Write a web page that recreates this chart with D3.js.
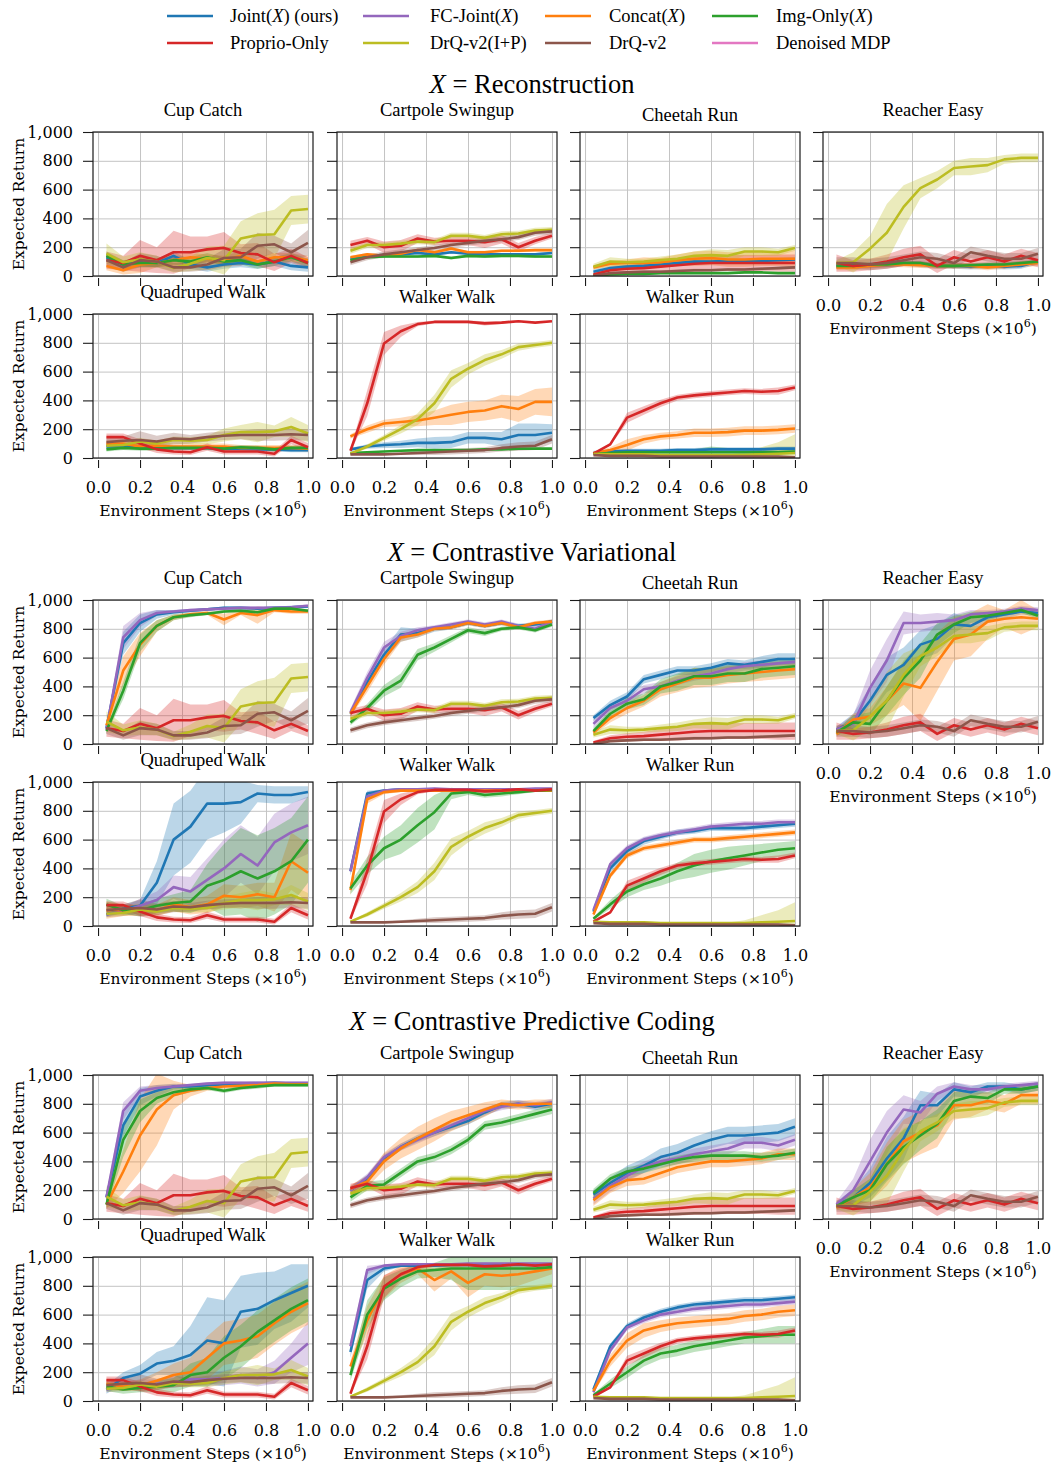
<!DOCTYPE html>
<html>
<head>
<meta charset="utf-8">
<script src="https://cdn.jsdelivr.net/npm/d3@7"></script>
<style>
  body { margin: 0; background: #fff; }
  svg { display: block; }
</style>
</head>
<body>
<svg id="chart" width="1053" height="1470"></svg>
<script>
// ---- shared axes / categories ----
const steps = [0.04, 0.12, 0.2, 0.28, 0.36, 0.44, 0.52, 0.6, 0.68, 0.76, 0.84, 0.92, 1.0];
const xTicks = [0, 0.2, 0.4, 0.6, 0.8, 1.0];
const yTicks = [0, 200, 400, 600, 800, 1000];
const tasks = ["Cup Catch", "Cartpole Swingup", "Cheetah Run", "Reacher Easy",
               "Quadruped Walk", "Walker Walk", "Walker Run"];
const sectionNames = ["Reconstruction", "Contrastive Variational", "Contrastive Predictive Coding"];
const legendLabels = ["Joint(X) (ours)", "FC-Joint(X)", "Concat(X)", "Img-Only(X)",
                      "Proprio-Only", "DrQ-v2(I+P)", "DrQ-v2", "Denoised MDP"];
const legendColors = ["#1f77b4", "#9467bd", "#ff7f0e", "#2ca02c",
                      "#d62728", "#bcbd22", "#8c564b", "#e377c2"];

// ---- baselines (independent of X), rows follow `tasks` ----
const proprioOnly = [
  [110, 90, 140, 110, 165, 165, 185, 195, 160, 150, 95, 140, 90],
  [215, 245, 200, 210, 260, 240, 245, 245, 235, 255, 200, 245, 280],
  [10, 40, 50, 55, 65, 75, 85, 90, 90, 90, 90, 90, 90],
  [90, 70, 80, 100, 130, 150, 70, 130, 100, 130, 100, 140, 110],
  [145, 145, 100, 60, 45, 40, 75, 45, 45, 45, 30, 125, 75],
  [50, 380, 795, 880, 930, 945, 945, 945, 935, 940, 950, 940, 950],
  [30, 95, 280, 330, 380, 420, 435, 445, 455, 465, 460, 465, 490]
];
const proprioOnlyBand = [
  [60, 50, 110, 90, 150, 110, 90, 110, 60, 80, 60, 50, 40],
  [30, 25, 40, 40, 30, 25, 25, 30, 40, 30, 30, 25, 20],
  [10, 20, 25, 30, 40, 50, 55, 55, 55, 55, 55, 60, 60],
  [60, 40, 40, 50, 60, 60, 50, 50, 50, 50, 50, 50, 50],
  [25, 25, 30, 25, 20, 20, 25, 20, 20, 20, 20, 30, 30],
  [10, 90, 80, 40, 15, 10, 10, 10, 15, 10, 5, 5, 5],
  [5, 10, 35, 30, 25, 20, 20, 20, 20, 20, 20, 25, 20]
];
const drqImgProp = [
  [155, 95, 115, 100, 55, 85, 125, 110, 260, 285, 290, 455, 465],
  [175, 215, 215, 225, 240, 235, 280, 280, 265, 290, 295, 315, 320],
  [65, 100, 95, 100, 110, 120, 140, 145, 140, 170, 170, 165, 195],
  [90, 95, 190, 300, 480, 610, 670, 750, 760, 770, 810, 820, 820],
  [85, 90, 115, 100, 125, 120, 125, 160, 180, 180, 185, 215, 170],
  [30, 80, 140, 200, 270, 380, 550, 620, 680, 720, 770, 785, 800],
  [30, 25, 25, 25, 20, 20, 20, 20, 20, 20, 25, 30, 35]
];
const drqImgPropBand = [
  [70, 40, 50, 40, 30, 50, 80, 100, 120, 150, 170, 100, 100],
  20,
  [20, 30, 25, 20, 25, 30, 30, 40, 40, 30, 30, 25, 20],
  [20, 70, 90, 200, 150, 70, 60, 50, 60, 50, 30, 30, 30],
  [20, 20, 25, 20, 25, 25, 30, 45, 50, 70, 40, 70, 60],
  [5, 15, 20, 30, 40, 60, 60, 40, 40, 30, 25, 20, 20],
  [5, 5, 5, 5, 5, 5, 5, 5, 5, 20, 50, 80, 130]
];
const drqV2 = [
  [110, 60, 110, 100, 60, 60, 80, 125, 130, 210, 220, 165, 230],
  [95, 130, 150, 165, 180, 195, 215, 230, 245, 255, 270, 300, 310],
  [0, 20, 25, 30, 30, 35, 40, 40, 45, 45, 50, 55, 60],
  [90, 90, 80, 90, 110, 130, 120, 90, 165, 140, 120, 120, 155],
  [110, 120, 125, 115, 135, 130, 145, 155, 160, 160, 160, 165, 160],
  [25, 25, 25, 30, 35, 40, 45, 50, 55, 70, 80, 85, 130],
  [20, 15, 15, 15, 10, 10, 10, 10, 10, 10, 10, 10, 5]
];
const drqV2Band = [
  [40, 30, 50, 40, 30, 30, 40, 60, 60, 90, 60, 60, 90],
  20, 10, 40,
  [30, 30, 60, 40, 40, 30, 30, 30, 30, 40, 40, 40, 40],
  [5, 5, 5, 10, 15, 20, 20, 20, 20, 25, 30, 30, 30],
  5
];

// ---- X = Reconstruction ----
const recJoint = [
  [130, 80, 100, 90, 140, 80, 60, 80, 90, 80, 100, 70, 60],
  [120, 140, 145, 150, 160, 150, 165, 155, 150, 150, 150, 150, 160],
  [30, 55, 65, 70, 80, 90, 100, 100, 105, 105, 105, 110, 115],
  [70, 80, 75, 80, 90, 80, 70, 70, 65, 70, 65, 70, 100],
  [80, 80, 75, 75, 70, 70, 70, 65, 65, 60, 60, 55, 55],
  [60, 80, 90, 95, 105, 105, 110, 140, 140, 130, 160, 160, 175],
  [35, 45, 50, 50, 50, 55, 55, 60, 60, 60, 60, 65, 65]
];
const recJointBand = [30, 10, 15, 20, 15, [10, 15, 20, 25, 30, 40, 40, 40, 40, 50, 80, 80, 60], 15];
const recConcat = [
  [70, 40, 80, 90, 110, 130, 120, 110, 140, 100, 130, 130, 110],
  [130, 150, 140, 155, 180, 165, 190, 165, 165, 175, 175, 180, 180],
  [60, 85, 90, 90, 95, 110, 120, 125, 115, 115, 120, 120, 120],
  [60, 60, 70, 80, 80, 75, 70, 70, 70, 60, 70, 80, 90],
  [100, 100, 80, 85, 80, 80, 80, 80, 70, 70, 70, 70, 65],
  [150, 200, 240, 250, 260, 280, 300, 320, 330, 360, 340, 390, 390],
  [35, 55, 90, 130, 150, 160, 175, 175, 180, 190, 190, 195, 205]
];
const recConcatBand = [
  [30, 30, 60, 30, 40, 30, 30, 30, 30, 30, 30, 30, 30], 10,
  [15, 20, 25, 40, 30, 40, 50, 50, 50, 50, 50, 50, 60], 20, 20,
  [15, 25, 25, 30, 40, 50, 70, 70, 70, 80, 90, 90, 100],
  [5, 20, 40, 30, 25, 25, 30, 30, 30, 30, 30, 30, 30]
];
const recImg = [
  [140, 80, 90, 90, 110, 100, 130, 100, 110, 80, 100, 130, 90],
  [110, 130, 135, 135, 135, 140, 125, 140, 135, 140, 140, 135, 135],
  [5, 10, 15, 15, 20, 20, 20, 20, 20, 25, 25, 20, 20],
  [70, 70, 80, 80, 90, 90, 70, 70, 75, 80, 80, 90, 100],
  [60, 70, 65, 65, 70, 70, 70, 65, 75, 70, 60, 70, 70],
  [35, 40, 45, 50, 55, 55, 55, 55, 60, 60, 65, 65, 65],
  [30, 35, 40, 40, 40, 40, 40, 40, 40, 40, 40, 40, 45]
];
const recImgBand = [30, 10, 8, 15, 15, 5, [5, 5, 10, 10, 15, 20, 20, 40, 30, 20, 20, 15, 15]];

// ---- X = Contrastive Variational ----
const cvJoint = [
  [110, 700, 840, 900, 915, 925, 935, 945, 945, 940, 945, 950, 955],
  [210, 430, 620, 760, 770, 800, 810, 840, 820, 840, 820, 830, 850],
  [180, 270, 330, 450, 480, 510, 510, 530, 560, 550, 570, 590, 590],
  [100, 150, 300, 480, 550, 690, 730, 830, 820, 880, 900, 920, 910],
  [80, 120, 140, 300, 600, 690, 850, 850, 860, 920, 910, 910, 930],
  [380, 920, 940, 950, 950, 950, 950, 950, 950, 950, 950, 950, 950],
  [100, 400, 520, 590, 620, 650, 660, 680, 680, 680, 690, 700, 710]
];
const cvJointBand = [
  [20, 80, 60, 30, 15, 10, 10, 10, 10, 10, 10, 10, 10],
  [20, 40, 40, 50, 30, 20, 15, 15, 15, 15, 15, 15, 15],
  [20, 30, 30, 30, 30, 30, 30, 30, 30, 30, 40, 40, 40],
  [20, 60, 100, 120, 120, 100, 100, 80, 50, 30, 30, 20, 20],
  [20, 30, 40, 150, 250, 250, 250, 200, 150, 60, 60, 60, 40],
  [30, 20, 10, 5, 5, 5, 5, 5, 5, 5, 5, 5, 5],
  [15, 30, 30, 25, 20, 20, 20, 20, 20, 20, 20, 20, 20]
];
const cvFcJoint = [
  [100, 740, 860, 910, 920, 930, 935, 940, 945, 945, 945, 950, 960],
  [220, 460, 670, 750, 790, 810, 830, 850, 830, 850, 820, 800, 850],
  [140, 250, 300, 380, 400, 440, 470, 490, 520, 540, 550, 560, 570],
  [100, 140, 390, 580, 840, 840, 850, 860, 900, 910, 920, 940, 930],
  [80, 100, 140, 180, 270, 240, 320, 400, 500, 420, 580, 650, 700],
  [380, 900, 940, 950, 950, 955, 950, 950, 950, 950, 950, 955, 955],
  [110, 430, 540, 600, 630, 650, 670, 690, 700, 710, 710, 720, 720]
];
const cvFcJointBand = [
  [20, 80, 50, 20, 10, 10, 10, 10, 10, 10, 10, 10, 10],
  [25, 40, 40, 30, 20, 15, 15, 15, 15, 15, 15, 20, 15],
  30,
  [20, 60, 120, 150, 80, 60, 60, 40, 30, 20, 20, 20, 20],
  [20, 30, 50, 60, 80, 100, 150, 200, 200, 200, 200, 200, 200],
  [30, 30, 10, 5, 5, 5, 5, 5, 5, 5, 5, 5, 5],
  20
];
const cvConcat = [
  [130, 510, 690, 820, 880, 900, 910, 865, 910, 895, 930, 920, 920],
  [210, 400, 590, 740, 760, 800, 810, 840, 820, 840, 810, 840, 850],
  [80, 180, 250, 300, 380, 420, 460, 460, 480, 490, 500, 510, 520],
  [70, 170, 190, 300, 420, 390, 570, 730, 760, 850, 870, 880, 870],
  [110, 110, 110, 110, 150, 130, 150, 210, 200, 220, 200, 450, 370],
  [250, 880, 930, 940, 940, 940, 940, 940, 940, 940, 940, 940, 940],
  [80, 350, 490, 540, 560, 580, 600, 600, 610, 620, 630, 640, 650]
];
const cvConcatBand = [
  [30, 100, 80, 40, 20, 15, 15, 40, 15, 60, 15, 15, 15],
  [20, 40, 40, 30, 20, 15, 15, 15, 15, 15, 15, 15, 15],
  [20, 30, 40, 40, 50, 60, 70, 60, 60, 60, 60, 60, 60],
  [20, 40, 60, 100, 150, 230, 200, 150, 150, 120, 60, 120, 60],
  [60, 40, 40, 40, 50, 50, 60, 80, 80, 80, 100, 200, 200],
  [40, 30, 15, 10, 10, 10, 10, 10, 10, 10, 10, 10, 10],
  20
];
const cvImg = [
  [90, 370, 700, 820, 880, 895, 905, 920, 925, 915, 940, 940, 925],
  [150, 250, 370, 440, 620, 670, 730, 790, 770, 800, 810, 790, 830],
  [90, 210, 280, 310, 400, 430, 470, 470, 490, 490, 520, 530, 540],
  [80, 150, 140, 300, 460, 580, 760, 830, 880, 890, 910, 930, 890],
  [150, 110, 110, 140, 160, 170, 280, 320, 380, 330, 380, 450, 600],
  [260, 420, 540, 600, 700, 790, 920, 930, 910, 920, 930, 940, 945],
  [50, 150, 240, 290, 330, 380, 420, 450, 470, 490, 510, 530, 540]
];
const cvImgBand = [
  [20, 60, 60, 40, 20, 15, 10, 10, 10, 10, 10, 10, 10],
  [20, 30, 40, 50, 40, 30, 25, 20, 20, 15, 15, 15, 15],
  [20, 30, 40, 40, 50, 60, 60, 60, 60, 60, 60, 60, 60],
  [20, 50, 80, 100, 120, 120, 80, 60, 40, 30, 20, 20, 20],
  [40, 30, 40, 50, 60, 80, 150, 250, 300, 300, 300, 300, 300],
  [40, 60, 80, 100, 120, 120, 40, 20, 20, 20, 15, 10, 10],
  [10, 30, 40, 40, 50, 60, 80, 80, 80, 70, 60, 50, 50]
];

// ---- X = Contrastive Predictive Coding ----
const cpcJoint = [
  [150, 650, 850, 890, 920, 920, 930, 935, 935, 940, 945, 940, 940],
  [200, 280, 420, 500, 560, 600, 640, 680, 740, 790, 800, 780, 800],
  [170, 250, 320, 370, 430, 460, 510, 550, 580, 580, 590, 600, 640],
  [100, 150, 250, 420, 560, 790, 790, 900, 880, 920, 920, 900, 920],
  [80, 160, 190, 260, 280, 320, 420, 400, 620, 640, 700, 750, 800],
  [340, 840, 920, 940, 940, 940, 945, 945, 945, 945, 945, 945, 945],
  [80, 380, 520, 580, 620, 650, 670, 680, 690, 700, 700, 710, 720]
];
const cpcJointBand = [
  [30, 80, 60, 40, 20, 15, 15, 15, 15, 15, 10, 10, 10],
  25,
  [30, 40, 50, 50, 60, 60, 60, 60, 60, 60, 60, 60, 60],
  [20, 60, 100, 150, 150, 100, 80, 50, 40, 30, 30, 30, 30],
  [30, 40, 60, 80, 100, 200, 300, 300, 250, 250, 200, 200, 150],
  [40, 60, 20, 10, 10, 10, 10, 10, 10, 10, 10, 10, 10],
  20
];
const cpcFcJoint = [
  [150, 750, 890, 910, 920, 930, 940, 945, 945, 945, 945, 945, 945],
  [200, 290, 430, 500, 550, 600, 650, 700, 750, 780, 800, 790, 810],
  [140, 230, 300, 360, 400, 420, 450, 470, 490, 530, 530, 510, 550],
  [100, 200, 400, 600, 760, 740, 870, 920, 900, 900, 920, 930, 940],
  [80, 100, 120, 120, 130, 150, 150, 160, 180, 160, 200, 300, 400],
  [380, 910, 940, 950, 950, 950, 950, 955, 955, 955, 955, 955, 955],
  [60, 350, 510, 560, 600, 620, 640, 650, 660, 670, 670, 680, 690]
];
const cpcFcJointBand = [
  [30, 60, 30, 20, 15, 10, 10, 10, 10, 10, 10, 10, 10],
  25, 40,
  [20, 80, 150, 150, 100, 80, 50, 30, 30, 30, 20, 20, 20],
  [20, 30, 30, 30, 40, 40, 50, 50, 60, 60, 80, 100, 150],
  [40, 30, 10, 5, 5, 5, 5, 5, 5, 5, 5, 5, 5],
  20
];
const cpcConcat = [
  [100, 330, 580, 760, 860, 890, 910, 920, 925, 930, 940, 935, 935],
  [210, 260, 400, 490, 560, 620, 680, 720, 760, 800, 790, 800, 800],
  [130, 220, 270, 280, 320, 360, 380, 400, 400, 410, 420, 450, 450],
  [80, 150, 220, 380, 540, 600, 650, 790, 790, 820, 800, 860, 860],
  [120, 100, 110, 140, 180, 200, 300, 400, 420, 450, 540, 620, 680],
  [240, 560, 790, 880, 920, 840, 900, 820, 880, 870, 880, 900, 920],
  [70, 280, 420, 490, 520, 540, 550, 560, 570, 590, 600, 620, 630]
];
const cpcConcatBand = [
  [30, 150, 250, 250, 100, 40, 20, 15, 15, 15, 10, 10, 10],
  [25, 40, 60, 70, 80, 80, 70, 60, 50, 30, 30, 30, 30],
  40,
  [20, 60, 100, 150, 150, 150, 150, 100, 80, 60, 60, 60, 60],
  [30, 30, 40, 60, 80, 100, 150, 150, 150, 150, 150, 150, 150],
  [40, 100, 80, 60, 40, 80, 50, 100, 80, 80, 80, 60, 40],
  [15, 40, 50, 50, 40, 40, 40, 40, 40, 40, 40, 40, 40]
];
const cpcImg = [
  [100, 550, 750, 840, 880, 900, 910, 890, 910, 920, 930, 930, 930],
  [150, 230, 240, 320, 400, 430, 480, 550, 650, 670, 700, 730, 760],
  [180, 280, 330, 350, 380, 410, 430, 440, 440, 440, 430, 440, 460],
  [90, 150, 200, 380, 500, 580, 660, 820, 850, 840, 900, 900, 920],
  [100, 80, 90, 100, 110, 180, 200, 300, 380, 480, 560, 640, 700],
  [180, 600, 780, 850, 900, 910, 920, 920, 920, 920, 920, 920, 930],
  [40, 120, 200, 280, 330, 350, 380, 400, 420, 440, 450, 460, 460]
];
const cpcImgBand = [
  [30, 120, 80, 40, 30, 20, 15, 15, 15, 15, 10, 10, 10],
  30, 30,
  [20, 50, 80, 120, 120, 100, 100, 60, 50, 40, 30, 30, 30],
  [30, 30, 30, 40, 50, 80, 100, 150, 150, 150, 150, 150, 150],
  [40, 100, 80, 60, 50, 50, 80, 150, 150, 150, 150, 150, 150],
  [10, 30, 40, 40, 40, 40, 40, 40, 40, 40, 50, 60, 60]
];

// ---- per-section series tables (order = drawing order) ----
const sections = [
  { name: sectionNames[0], series: [
    [recJoint, recJointBand, 0], [recConcat, recConcatBand, 2], [recImg, recImgBand, 3]] },
  { name: sectionNames[1], series: [
    [cvJoint, cvJointBand, 0], [cvFcJoint, cvFcJointBand, 1],
    [cvConcat, cvConcatBand, 2], [cvImg, cvImgBand, 3]] },
  { name: sectionNames[2], series: [
    [cpcJoint, cpcJointBand, 0], [cpcFcJoint, cpcFcJointBand, 1],
    [cpcConcat, cpcConcatBand, 2], [cpcImg, cpcImgBand, 3]] }
];
const baselineSeries = [
  [proprioOnly, proprioOnlyBand, 4], [drqImgProp, drqImgPropBand, 5], [drqV2, drqV2Band, 6]
];

// ---- layout ----
const svg = d3.select("#chart");
const W = 220, H = 144;
const colLeft = [93, 337, 580, 823];
const rowTops = [[132, 314], [600, 782], [1075, 1257]];
const sectionTitleY = [93, 561, 1030];
const serif = "'Liberation Serif', 'Times New Roman', serif";
const cmSerif = "'DejaVu Serif', serif";
const gridColor = "#c4c4c4";

function spreadOf(b) { return Array.isArray(b) ? b : steps.map(() => b); }

// math-style labels: italic X inside "(X)"
function writeLabel(sel, label) {
  const parts = label.split("(X)");
  parts.forEach((p, i) => {
    if (p) sel.append("tspan").text(p);
    if (i < parts.length - 1) {
      sel.append("tspan").text("(");
      sel.append("tspan").attr("font-style", "italic").text("X");
      sel.append("tspan").text(")");
    }
  });
}

// legend
const legX = [167, 363, 545, 712], legTextX = [230, 430, 609, 776], legY = [16, 43];
legendLabels.forEach((lab, i) => {
  const r = Math.floor(i / 4), c = i % 4;
  svg.append("line").attr("x1", legX[c]).attr("x2", legX[c] + 46)
    .attr("y1", legY[r]).attr("y2", legY[r])
    .attr("stroke", legendColors[i]).attr("stroke-width", 2.6);
  const t = svg.append("text").attr("x", legTextX[c]).attr("y", legY[r] + 5.5)
    .attr("font-family", serif).attr("font-size", 18.5).attr("fill", "#000");
  writeLabel(t, lab);
});

const area = (x, y) => d3.area().x(d => x(d.s)).y0(d => y(d.lo)).y1(d => y(d.hi));
const line = (x, y) => d3.line().x(d => x(d.s)).y(d => y(d.v));

sections.forEach((sec, si) => {
  const st = svg.append("text").attr("x", 532).attr("y", sectionTitleY[si])
    .attr("text-anchor", "middle").attr("font-family", serif).attr("font-size", 26.5);
  st.append("tspan").attr("font-style", "italic").text("X");
  st.append("tspan").text(" = " + sec.name);

  tasks.forEach((task, ti) => {
    const row = ti < 4 ? 0 : 1;
    const col = ti < 4 ? ti : ti - 4;
    const left = colLeft[col], top = rowTops[si][row];
    const x = d3.scaleLinear().domain([-0.024, 1.024]).range([left, left + W]);
    const y = d3.scaleLinear().domain([0, 1000]).range([top + H, top]);
    const g = svg.append("g");
    const clipId = `clip-${si}-${ti}`;
    g.append("clipPath").attr("id", clipId).append("rect")
      .attr("x", left).attr("y", top).attr("width", W).attr("height", H);

    // grid
    g.append("g").attr("transform", `translate(0,${top})`)
      .call(d3.axisBottom(x).tickValues(xTicks).tickSize(H).tickFormat(""))
      .call(a => a.select(".domain").remove())
      .selectAll("line").attr("stroke", gridColor).attr("stroke-width", 1);
    g.append("g").attr("transform", `translate(${left},0)`)
      .call(d3.axisRight(y).tickValues(yTicks).tickSize(W).tickFormat(""))
      .call(a => a.select(".domain").remove())
      .selectAll("line").attr("stroke", gridColor).attr("stroke-width", 1);

    // series: all bands below all lines
    const all = sec.series.concat(baselineSeries).map(([vals, bands, ci]) => {
      const v = vals[ti], b = spreadOf(bands[ti]);
      return { color: legendColors[ci],
               pts: steps.map((s, k) => ({ s, v: v[k], lo: v[k] - b[k], hi: v[k] + b[k] })) };
    });
    const plot = g.append("g").attr("clip-path", `url(#${clipId})`);
    all.forEach(d => plot.append("path").attr("d", area(x, y)(d.pts))
      .attr("fill", d.color).attr("fill-opacity", 0.3).attr("stroke", "none"));
    all.forEach(d => plot.append("path").attr("d", line(x, y)(d.pts))
      .attr("fill", "none").attr("stroke", d.color).attr("stroke-width", 2.6)
      .attr("stroke-linejoin", "round").attr("stroke-linecap", "butt"));

    // frame
    g.append("rect").attr("x", left).attr("y", top).attr("width", W).attr("height", H)
      .attr("fill", "none").attr("stroke", "#1a1a1a").attr("stroke-width", 1.2);

    // y axis
    const ya = g.append("g").attr("transform", `translate(${left},0)`)
      .call(d3.axisLeft(y).tickValues(yTicks).tickSize(10).tickPadding(10)
        .tickFormat(col === 0 ? d3.format(",") : () => ""));
    ya.select(".domain").remove();
    ya.selectAll("line").attr("stroke", "#1a1a1a").attr("stroke-width", 1.1);
    ya.selectAll("text").attr("font-family", cmSerif).attr("font-size", 16).attr("fill", "#000");

    // x axis (ticks sit just below the frame)
    const showX = (row === 1) || (col === 3);
    const xa = g.append("g").attr("transform", `translate(0,${top + H + 2})`)
      .call(d3.axisBottom(x).tickValues(xTicks).tickSize(8).tickPadding(14)
        .tickFormat(showX ? d3.format(".1f") : () => ""));
    xa.select(".domain").remove();
    xa.selectAll("line").attr("stroke", "#1a1a1a").attr("stroke-width", 1.1);
    xa.selectAll("text").attr("font-family", cmSerif).attr("font-size", 16).attr("fill", "#000");

    if (showX) {
      const xl = g.append("text").attr("x", left + W / 2).attr("y", top + H + 58)
        .attr("text-anchor", "middle").attr("font-family", cmSerif)
        .attr("font-size", 15.5).attr("fill", "#000");
      xl.append("tspan").text("Environment Steps (×10");
      xl.append("tspan").attr("dy", -7).attr("font-size", 11).text("6");
      xl.append("tspan").attr("dy", 7).text(")");
    }
    if (col === 0) {
      g.append("text").attr("transform", `translate(24,${top + H / 2}) rotate(-90)`)
        .attr("text-anchor", "middle").attr("font-family", cmSerif)
        .attr("font-size", 15.5).attr("fill", "#000").text("Expected Return");
    }

    // panel title: descender-free titles sit a little lower
    const hasDesc = /[gjpqy]/.test(task);
    g.append("text").attr("x", left + W / 2).attr("y", top - (hasDesc ? 16 : 11))
      .attr("text-anchor", "middle").attr("font-family", serif)
      .attr("font-size", 18.5).attr("fill", "#000").text(task);
  });
});
</script>
</body>
</html>
